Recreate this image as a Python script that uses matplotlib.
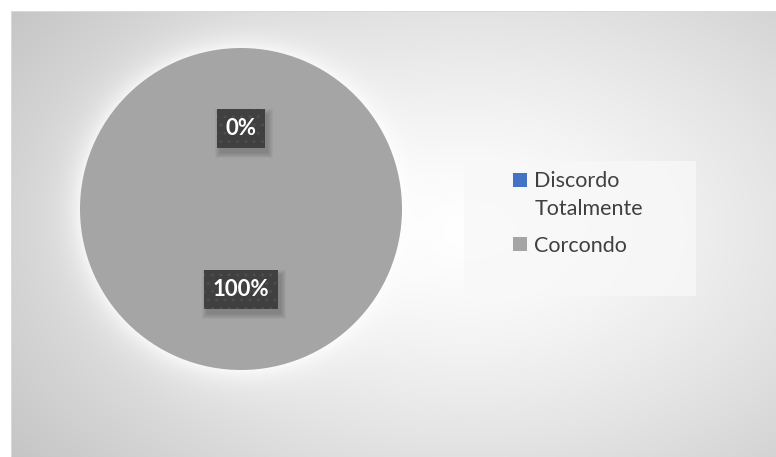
import numpy as np
import matplotlib.pyplot as plt
from matplotlib.patches import Rectangle
from matplotlib.transforms import IdentityTransform
from matplotlib.legend_handler import HandlerPatch

# Answers to the survey question
labels = ["Discordo\nTotalmente", "Corcondo"]
values = [0, 100]
colors = ["#4472C4", "#A5A5A5"]

W, H = 776, 457
fig = plt.figure(figsize=(W / 100, H / 100), dpi=100)
plt.rcParams['font.family'] = ['Lato', 'DejaVu Sans']

# pie placement in pixels (from the top-left corner)
pcx, pcy, prad = 241, 209, 161

# chart area background: soft radial gradient plus a white glow around the pie
yy, xx = np.mgrid[0:H, 0:W].astype(float)
r = np.sqrt(((xx - 470) / 520) ** 2 + ((yy - 230) / 340) ** 2)
v = 255 - 51 * r ** 1.32
d = np.sqrt((xx - pcx) ** 2 + (yy - pcy) ** 2) - prad
glow = np.where(d > 0, np.exp(-d / 14), 1.0)
v = v + (255 - v) * 0.75 * glow
v = np.clip(v, 0, 255)
v[:11, :] = 255
v[:, :11] = 255
v[11, 11:] = 217
v[11:, 11] = 217
img = np.dstack([v, v, v]) / 255
fig.figimage(img, xo=0, yo=0, origin='upper', zorder=-10)

ax = fig.add_axes([(pcx - prad) / W, (H - pcy - prad) / H, 2 * prad / W, 2 * prad / H])
ax.set_zorder(2)
ax.set_facecolor('none')
wedges, texts, autotexts = ax.pie(values, colors=colors, startangle=90,
                                  autopct='%1.0f%%', pctdistance=0.5,
                                  wedgeprops=dict(linewidth=0),
                                  textprops=dict(color='white', fontsize=16,
                                                 fontweight='bold'))
ax.set_xlim(-1, 1)
ax.set_ylim(-1, 1)

# dark label boxes
for t in autotexts:
    t.set_bbox(dict(boxstyle='square,pad=0.4', fc='#404040', ec='#4d4d4d',
                    hatch='..', lw=0))
    t.set_zorder(5)

# legend panel
fig.patches.append(Rectangle((464 / W, 1 - 296 / H), (696 - 464) / W, (296 - 161) / H,
                             transform=fig.transFigure, fc='#f8f8f8', ec='none',
                             alpha=0.8, zorder=1))


# put the marker next to the first line of a two-line label
def top_square(legend, orig_handle, xdescent, ydescent, width, height, fontsize):
    return Rectangle((-xdescent, -ydescent + 0.72 * fontsize), width, height)


leg = fig.legend(wedges, labels, loc='upper left',
                 bbox_to_anchor=(494 / W, 1 - 152 / H), frameon=False,
                 fontsize=15.5, handlelength=0.62, handleheight=0.62,
                 handletextpad=0.35, labelspacing=0.8, labelcolor='#404040',
                 handler_map={wedges[0]: HandlerPatch(patch_func=top_square)})
leg.set_zorder(3)
for lt in leg.get_texts():
    lt.set_linespacing(1.45)

# soft drop shadow behind each label box
fig.canvas.draw()
for t in autotexts:
    bb = t.get_bbox_patch().get_window_extent()
    for k in range(6):
        ax.add_patch(Rectangle((bb.x0 + 3 - k, bb.y0 - 5 - k),
                               bb.width + 2 * k, bb.height + 2 * k,
                               transform=IdentityTransform(), fc='#505050',
                               ec='none', alpha=0.07, zorder=4))

fig.savefig('out.png', dpi=100)
